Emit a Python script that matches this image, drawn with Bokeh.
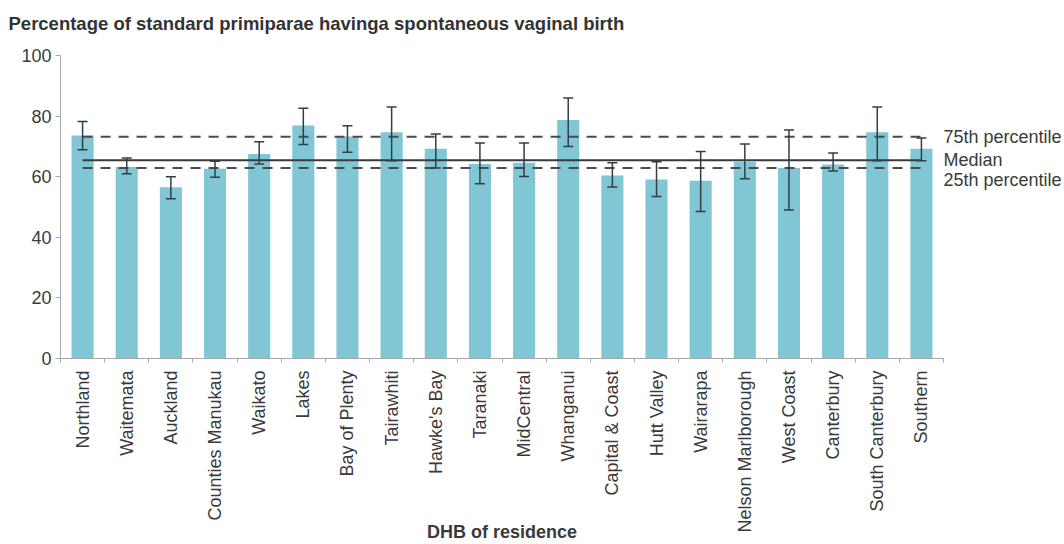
import math
from bokeh.plotting import figure
from bokeh.models import (ColumnDataSource, Whisker, TeeHead, LinearAxis, Title,
                          Range1d, FixedTicker, CustomJSTickFormatter)
from bokeh.embed import file_html
from bokeh.resources import INLINE

categories = ["Northland", "Waitemata", "Auckland", "Counties Manukau", "Waikato",
              "Lakes", "Bay of Plenty", "Tairawhiti", "Hawke's Bay", "Taranaki",
              "MidCentral", "Whanganui", "Capital & Coast", "Hutt Valley", "Wairarapa",
              "Nelson Marlborough", "West Coast", "Canterbury", "South Canterbury", "Southern"]
values = [73.6, 63.2, 56.5, 62.6, 67.5, 76.9, 73.3, 74.7, 69.2, 64.2,
          64.6, 78.7, 60.4, 59.1, 58.7, 64.9, 62.9, 64.0, 74.7, 69.2]
upper = [78.2, 66.2, 60.0, 65.1, 71.5, 82.6, 76.8, 83.0, 74.1, 71.1,
         71.1, 86.0, 64.6, 64.9, 68.3, 70.8, 75.4, 67.8, 83.0, 72.8]
lower = [68.9, 61.0, 52.7, 59.8, 64.2, 70.6, 68.1, 65.3, 62.9, 57.7,
         60.1, 70.0, 56.6, 53.5, 48.5, 59.3, 49.0, 61.9, 65.3, 65.3]
p75 = 73.2
median = 65.4
p25 = 62.9
ref_values = [p75, median, p25]
ref_names = ["75th percentile", "Median", "\n25th percentile"]
y_ticks = [0, 20, 40, 60, 80, 100]

title_text = "Percentage of standard primiparae havinga spontaneous vaginal birth"
x_title = "DHB of residence"

FONT = "Liberation Sans"
TXT = "#3a3a3a"
AXC = "#a8a8a8"
BAR = "#80c6d4"

n = len(categories)
xpos = [i + 0.5 for i in range(n)]          # category centres
bounds = list(range(n + 1))                 # category boundaries

src = ColumnDataSource(dict(x=xpos, val=values, up=upper, lo=lower))

p = figure(x_range=Range1d(0, n), y_range=Range1d(0, 100),
           width=1064, height=544, output_backend="svg", toolbar_location=None,
           min_border_left=60, min_border_right=121, min_border_top=55,
           min_border_bottom=186, x_axis_location=None)
p.outline_line_color = None
p.xgrid.grid_line_color = None
p.ygrid.grid_line_color = None

p.vbar(x="x", top="val", width=0.5, source=src, fill_color=BAR, line_color=None)

w = Whisker(source=src, base="x", upper="up", lower="lo", level="overlay",
            line_color="#2f3f48", line_width=1.5,
            upper_head=TeeHead(size=10, line_color="#2f3f48", line_width=1.5),
            lower_head=TeeHead(size=10, line_color="#2f3f48", line_width=1.5))
p.add_layout(w)

ends = [xpos[0], xpos[-1]]
p.line(x=ends, y=[p75, p75], line_color="#4a4a4a", line_width=2, line_dash="10 8")
p.line(x=ends, y=[p25, p25], line_color="#4a4a4a", line_width=2, line_dash="10 8")
p.line(x=ends, y=[median, median], line_color="#3a3a3a", line_width=2)

# y axis
p.yaxis.ticker = FixedTicker(ticks=y_ticks)
p.yaxis.axis_line_color = AXC
p.yaxis.major_tick_line_color = AXC
p.yaxis.major_tick_out = 5
p.yaxis.major_tick_in = 0
p.yaxis.minor_tick_line_color = None
p.yaxis.major_label_text_font = FONT
p.yaxis.major_label_text_font_size = "18px"
p.yaxis.major_label_text_color = TXT
p.yaxis.major_label_standoff = 4

# right-hand labels for the reference lines
ref_axis = LinearAxis(ticker=FixedTicker(ticks=ref_values),
                      formatter=CustomJSTickFormatter(
                          args=dict(names=ref_names, vals=ref_values),
                          code="const i = vals.indexOf(tick); return i >= 0 ? names[i] : '';"),
                      axis_line_color=None, major_tick_line_color=None,
                      minor_tick_line_color=None, major_tick_out=0, major_tick_in=0,
                      major_label_standoff=0, major_label_text_font=FONT,
                      major_label_text_font_size="18px", major_label_text_color=TXT)
p.add_layout(ref_axis, "right")

# x: tick axis at category boundaries, then label axis at centres
tick_axis = LinearAxis(ticker=FixedTicker(ticks=bounds),
                       formatter=CustomJSTickFormatter(code="return ''"),
                       axis_line_color=AXC, major_tick_line_color=AXC,
                       major_tick_out=4, major_tick_in=0, minor_tick_line_color=None,
                       major_label_standoff=0)
label_axis = LinearAxis(ticker=FixedTicker(ticks=xpos),
                        formatter=CustomJSTickFormatter(args=dict(names=categories),
                                                        code="return names[Math.floor(tick)]"),
                        axis_line_color=None, major_tick_line_color=None,
                        minor_tick_line_color=None, major_tick_out=0, major_tick_in=0,
                        major_label_orientation=math.pi / 2,
                        major_label_text_font=FONT, major_label_text_font_size="18px",
                        major_label_text_color=TXT, major_label_standoff=8,
                        axis_label=x_title, axis_label_standoff=-14,
                        axis_label_text_font=FONT, axis_label_text_font_size="18px",
                        axis_label_text_font_style="bold", axis_label_text_color=TXT)
p.add_layout(tick_axis, "below")
p.add_layout(label_axis, "below")

# title (a trailing empty line lifts it above the plot area)
t = Title(text=title_text + "\n", align="left", offset=-52, standoff=2,
          text_font=FONT, text_font_size="18.5px", text_font_style="bold",
          text_color="#333333")
p.add_layout(t, "above")

open("out.html", "w").write(file_html(p, INLINE))
